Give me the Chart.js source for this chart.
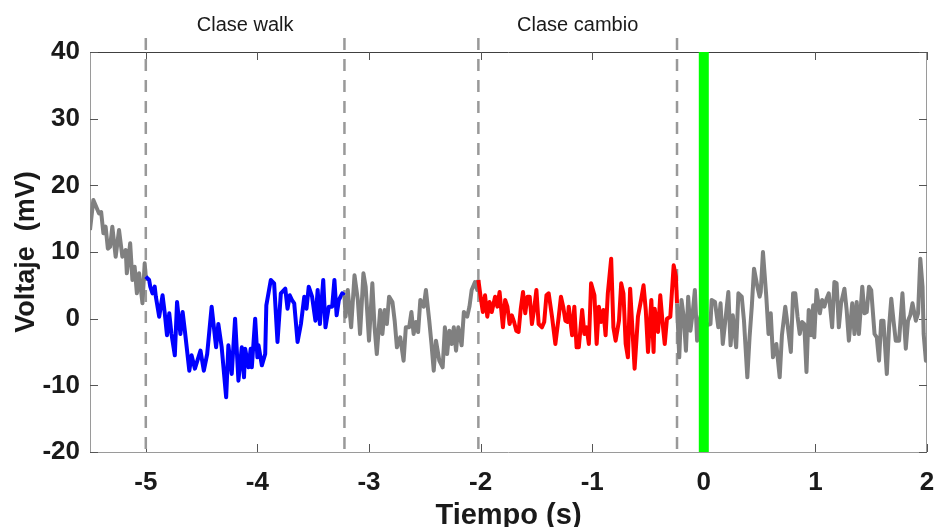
<!DOCTYPE html>
<html><head><meta charset="utf-8">
<script src="https://cdn.jsdelivr.net/npm/chart.js@4.4.1/dist/chart.umd.min.js"></script>
<style>html,body{margin:0;padding:0;background:#fff;overflow:hidden}canvas{display:block}</style>
</head><body>
<canvas id="c" width="935" height="527" style="width:935px;height:527px"></canvas>
<script>
const timeS = [
-5.50,-5.47,-5.42,-5.40,-5.38,-5.36,-5.34,-5.32,-5.30,-5.27,-5.24,-5.21,-5.18,-5.17,-5.14,-5.12,-5.10,-5.08,-5.06,-5.03,-5.01,
-5.00,-4.97,-4.96,-4.94,-4.92,-4.91,-4.88,-4.85,-4.83,-4.81,-4.79,-4.77,-4.74,-4.72,-4.69,-4.67,-4.65,-4.61,-4.59,-4.56,-4.51,-4.48,-4.45,-4.41,-4.37,-4.35,-4.32,-4.28,-4.26,-4.23,-4.20,-4.17,-4.14,-4.12,-4.11,-4.08,-4.06,-4.05,-4.02,-4.00,-3.99,-3.96,-3.93,-3.92,-3.88,-3.85,-3.82,-3.79,-3.75,-3.73,-3.71,-3.69,-3.67,-3.64,-3.61,-3.58,-3.56,-3.54,-3.51,-3.48,-3.46,-3.44,-3.41,-3.39,-3.36,-3.33,-3.31,-3.29,-3.27,-3.24,-3.22,
-3.21,-3.19,-3.16,-3.13,-3.10,-3.08,-3.05,-3.03,-3.00,-2.97,-2.95,-2.93,-2.90,-2.88,-2.86,-2.84,-2.82,-2.79,-2.77,-2.75,-2.72,-2.69,-2.67,-2.64,-2.62,-2.60,-2.58,-2.56,-2.54,-2.51,-2.49,-2.46,-2.44,-2.42,-2.40,-2.37,-2.34,-2.32,-2.30,-2.28,-2.26,-2.24,-2.22,-2.20,-2.17,-2.15,-2.12,-2.10,-2.08,-2.05,-2.03,-2.02,
-2.00,-1.98,-1.96,-1.94,-1.92,-1.90,-1.87,-1.85,-1.83,-1.80,-1.78,-1.76,-1.74,-1.72,-1.70,-1.68,-1.66,-1.64,-1.62,-1.60,-1.58,-1.56,-1.54,-1.52,-1.50,-1.48,-1.45,-1.43,-1.41,-1.39,-1.36,-1.33,-1.30,-1.28,-1.26,-1.24,-1.22,-1.21,-1.18,-1.16,-1.14,-1.12,-1.09,-1.07,-1.05,-1.03,-1.01,-0.98,-0.96,-0.94,-0.92,-0.90,-0.88,-0.86,-0.83,-0.81,-0.79,-0.76,-0.74,-0.72,-0.70,-0.68,-0.66,-0.62,-0.59,-0.56,-0.54,-0.52,-0.50,-0.47,-0.45,-0.44,-0.41,-0.39,-0.37,-0.35,-0.33,-0.30,-0.27,-0.25,-0.24,
-0.22,-0.20,-0.18,-0.16,-0.14,-0.12,-0.10,-0.08,-0.06,-0.04,-0.01,0.02,0.06,0.07,0.10,0.13,0.15,0.17,0.20,0.22,0.24,0.26,0.29,0.31,0.34,0.36,0.39,0.41,0.43,0.45,0.48,0.50,0.51,0.53,0.56,0.58,0.60,0.62,0.65,0.68,0.70,0.73,0.75,0.78,0.80,0.82,0.84,0.86,0.88,0.90,0.92,0.94,0.96,0.98,0.99,1.01,1.04,1.06,1.08,1.10,1.12,1.15,1.17,1.19,1.21,1.23,1.26,1.28,1.30,1.33,1.35,1.37,1.39,1.42,1.44,1.46,1.48,1.50,1.53,1.55,1.57,1.59,1.61,1.64,1.66,1.68,1.70,1.72,1.75,1.78,1.81,1.83,1.85,1.87,1.90,1.92,1.94,1.96,1.97,1.99,2.00
];
const voltageMV = [
13.3,17.8,15.8,16.0,12.8,13.8,10.5,10.8,13.8,9.3,13.3,9.3,10.3,6.8,11.3,5.8,7.8,3.8,6.8,2.3,8.3,
6.3,5.8,4.8,3.8,4.8,3.3,0.3,3.5,0.8,-2.5,0.8,-2.3,-5.5,2.5,-2.3,1.0,-1.8,-7.8,-5.5,-7.5,-4.8,-7.8,-5.3,1.8,-4.3,-0.8,-4.3,-11.8,-4.0,-8.3,0.0,-9.3,-4.3,-8.8,-4.5,-7.3,-4.5,-7.3,0.0,-5.8,-4.0,-7.0,-5.3,2.0,5.8,5.3,-3.5,3.8,4.5,1.5,3.5,2.8,2.3,-3.5,-0.8,3.3,1.5,4.8,3.3,-0.3,4.3,-0.8,5.8,-1.3,1.8,1.8,5.8,0.5,2.8,3.8,3.5,
0.3,4.3,-1.3,6.5,2.8,-2.3,6.8,4.8,-3.3,5.3,-1.3,-5.3,1.3,-2.3,1.3,-0.8,3.3,2.5,-0.3,-4.3,-2.8,-6.3,-1.3,-1.3,1.0,-2.3,-0.5,-2.0,2.8,1.8,4.3,-0.3,-3.8,-7.8,-3.3,-6.3,-7.3,-1.3,-5.3,-1.8,-3.8,-1.3,-4.8,-1.3,-4.0,1.0,0.3,1.8,4.3,5.5,4.3,5.8,
3.3,1.0,3.5,0.3,2.5,1.0,3.3,1.8,4.0,-1.3,2.8,1.8,-0.8,0.5,-0.5,-1.8,-2.0,1.5,4.0,0.8,3.3,3.3,-0.8,1.5,4.3,-0.8,-1.3,-0.5,3.5,3.8,0.3,-3.8,0.3,3.3,1.8,-0.3,-0.5,1.8,-2.5,1.8,-4.3,-4.3,1.3,-2.3,-1.3,-3.8,5.3,3.5,-3.8,1.8,-0.5,1.3,-2.5,3.8,9.0,-1.3,-3.3,-0.3,5.3,3.8,-3.8,-5.8,4.5,-7.5,0.3,3.0,5.0,1.3,-5.0,2.8,-5.0,1.5,-2.0,3.5,-0.5,-3.8,0.0,0.3,8.0,6.3,2.3,
-5.8,2.8,0.3,-4.8,3.3,-1.8,0.8,4.3,-3.3,-0.3,1.5,-1.0,-0.8,2.8,2.5,-1.3,2.3,-3.8,0.8,4.0,-4.0,0.5,-4.3,3.8,3.3,-0.3,-8.8,-2.8,1.8,7.5,4.8,3.3,4.0,10.0,3.3,-2.3,0.8,-5.8,-3.8,-8.8,-2.5,1.8,-0.8,-5.0,3.8,3.8,0.3,-2.3,-0.5,-0.8,-8.0,1.3,-2.5,2.0,-2.8,4.3,0.8,2.8,1.8,3.0,3.8,-1.3,5.5,5.3,-1.3,2.3,4.5,1.3,-3.3,2.3,-2.3,2.5,-2.3,4.8,0.8,1.0,4.8,4.3,-2.3,-2.8,-6.3,-0.3,-0.3,-8.3,-1.3,3.0,-0.3,-3.3,-3.3,3.8,-4.5,-0.3,0.5,2.3,-0.3,0.8,9.0,4.8,-2.3,-6.3,-4.8
];
const xTicks = [-5,-4,-3,-2,-1,0,1,2];
const yTicks = [-20,-10,0,10,20,30,40];
const classNames = ['Clase walk','Clase cambio'];
const classBounds = [[-5.0,-3.22],[-2.02,-0.24]];
const classColors = ['#0000ff','#ff0000'];
const eventTime = 0;

const FONT = "'Liberation Sans', Arial, Helvetica, sans-serif";
const points = timeS.map((t,i)=>({x:t,y:voltageMV[i]}));

function segColor(ctx){
  const a = ctx.p0.parsed.x, b = ctx.p1.parsed.x;
  for (let k=0;k<classBounds.length;k++){
    if (a >= classBounds[k][0]-1e-9 && b <= classBounds[k][1]+1e-9) return classColors[k];
  }
  return '#808080';
}

const decor = {
  id:'decor',
  beforeDatasetsDraw(chart){
    const {ctx, chartArea:ca, scales:{x,y}} = chart;
    ctx.save();
    ctx.lineWidth = 1;
    ctx.strokeStyle = '#9a9a9a';
    ctx.beginPath();
    ctx.moveTo(ca.left+0.5, ca.top); ctx.lineTo(ca.left+0.5, ca.bottom+0.5);
    ctx.lineTo(ca.right-0.5, ca.bottom+0.5); ctx.lineTo(ca.right-0.5, ca.top);
    ctx.stroke();
    ctx.strokeStyle = '#404040';
    ctx.beginPath(); ctx.moveTo(ca.left, ca.top+0.5); ctx.lineTo(ca.right, ca.top+0.5); ctx.stroke();
    ctx.strokeStyle = '#555';
    ctx.beginPath();
    xTicks.forEach(v=>{
      const px = Math.round(x.getPixelForValue(v))+0.5;
      ctx.moveTo(px, ca.bottom); ctx.lineTo(px, ca.bottom-8);
      ctx.moveTo(px, ca.top); ctx.lineTo(px, ca.top+8);
    });
    yTicks.forEach(v=>{
      const py = Math.round(y.getPixelForValue(v))+0.5;
      ctx.moveTo(ca.left, py); ctx.lineTo(ca.left+8, py);
      ctx.moveTo(ca.right, py); ctx.lineTo(ca.right-8, py);
    });
    ctx.stroke();
    ctx.strokeStyle = '#999999';
    ctx.lineWidth = 2.5;
    ctx.setLineDash([12,9]);
    classBounds.flat().forEach(v=>{
      const px = x.getPixelForValue(v);
      ctx.beginPath(); ctx.moveTo(px, 38); ctx.lineTo(px, ca.bottom); ctx.stroke();
    });
    ctx.setLineDash([]);
    ctx.fillStyle = '#1a1a1a';
    ctx.font = '20px ' + FONT;
    ctx.textAlign = 'center'; ctx.textBaseline = 'middle';
    classBounds.forEach((b,k)=>{
      const px = (x.getPixelForValue(b[0]) + x.getPixelForValue(b[1]))/2;
      ctx.fillText(classNames[k], px, 25);
    });
    ctx.restore();
  },
  afterDatasetsDraw(chart){
    const {ctx, chartArea:ca, scales:{x}} = chart;
    ctx.save();
    ctx.strokeStyle = '#00ff00';
    ctx.lineWidth = 10;
    const px = x.getPixelForValue(eventTime);
    ctx.beginPath(); ctx.moveTo(px, ca.top); ctx.lineTo(px, ca.bottom); ctx.stroke();
    ctx.restore();
  }
};

new Chart(document.getElementById('c'), {
  type:'line',
  data:{ datasets:[{
    data: points,
    borderColor:'#808080',
    borderWidth:4,
    borderJoinStyle:'round',
    pointRadius:0,
    tension:0,
    segment:{ borderColor: segColor }
  }]},
  options:{
    responsive:false, animation:false, devicePixelRatio:1,
    layout:{ padding:{ top:52, right:8, left:0, bottom:0 } },
    plugins:{ legend:{display:false}, tooltip:{enabled:false} },
    scales:{
      x:{
        type:'linear', min:-5.5, max:2,
        afterBuildTicks(s){ s.ticks = xTicks.map(v=>({value:v})); },
        afterFit(s){ s.height = 75; s.paddingLeft = 0; s.paddingRight = 0; },
        grid:{ display:false, drawTicks:false },
        border:{ display:false },
        ticks:{ padding:15, color:'#1a1a1a', font:{ family:FONT, size:26, weight:'bold' }, maxRotation:0 },
        title:{ display:true, text:'Tiempo (s)', color:'#1a1a1a', font:{ family:FONT, size:29, weight:'bold' }, padding:{top:0,bottom:-6} }
      },
      y:{
        type:'linear', min:-20, max:40,
        afterBuildTicks(s){ s.ticks = yTicks.map(v=>({value:v})); },
        afterFit(s){ s.width = 90; s.paddingTop = 0; s.paddingBottom = 0; },
        grid:{ display:false, drawTicks:false },
        border:{ display:false },
        ticks:{ padding:10, color:'#1a1a1a', font:{ family:FONT, size:26, weight:'bold' } },
        title:{ display:true, text:'Voltaje  (mV)', color:'#1a1a1a', font:{ family:FONT, size:27, weight:'bold' }, padding:{top:10,bottom:0} }
      }
    }
  },
  plugins:[decor]
});
</script>
</body></html>
